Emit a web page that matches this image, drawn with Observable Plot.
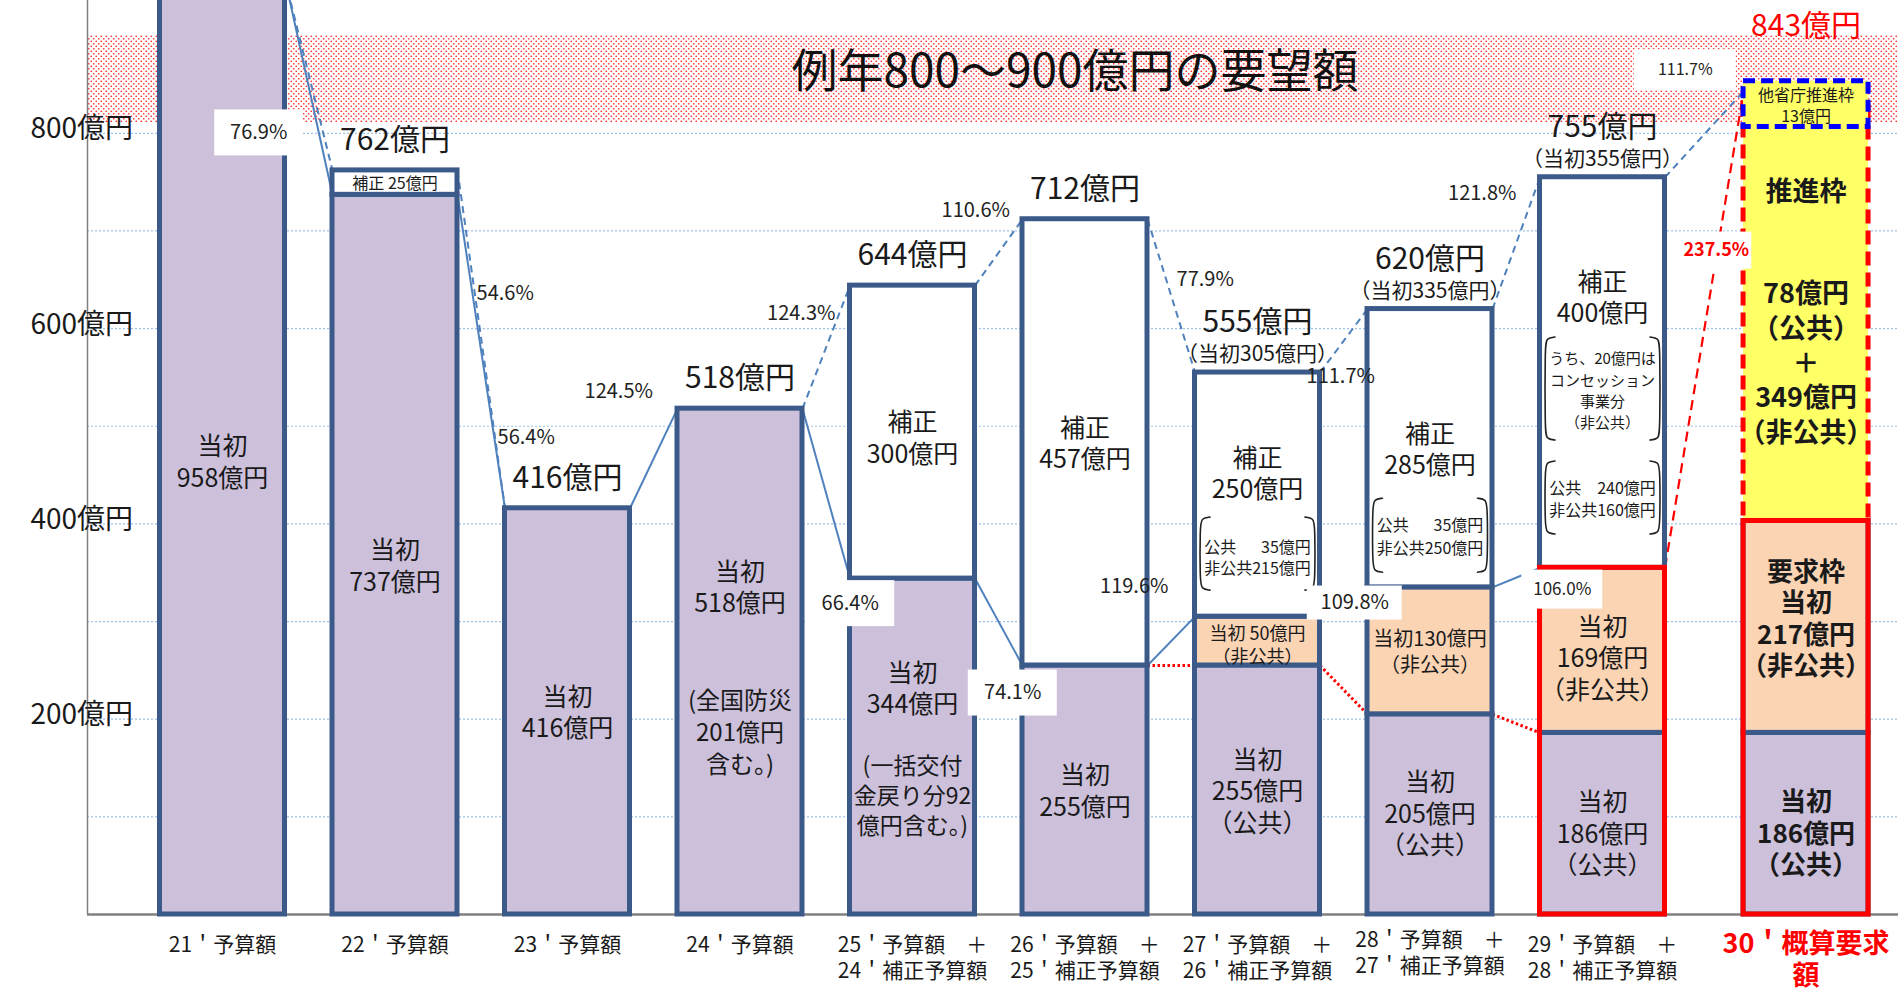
<!DOCTYPE html>
<html lang="ja">
<head>
<meta charset="utf-8">
<title>chart</title>
<script src="https://cdn.jsdelivr.net/npm/d3@7"></script>
<script src="https://cdn.jsdelivr.net/npm/@observablehq/plot@0.6"></script>
<style>
  html, body { margin: 0; padding: 0; background: #fff; }
  #chart svg { display: block; }
</style>
</head>
<body>
<div id="chart"></div>
<script>
// ---------------- data ----------------
const categories = ["21", "22", "23", "24", "25", "26", "27", "28", "29", "30"];
const tickLabels = [
  "21＇予算額", "22＇予算額", "23＇予算額", "24＇予算額",
  "25＇予算額　＋\n24＇補正予算額", "26＇予算額　＋\n25＇補正予算額",
  "27＇予算額　＋\n26＇補正予算額", "28＇予算額　＋\n27＇補正予算額",
  "29＇予算額　＋\n28＇補正予算額", "30＇概算要求\n額"
];
const initialPublic    = [958, 737, 416, 518, 344, 255, 255, 205, 186, 186]; // 当初（公共）
const initialNonPublic = [0, 0, 0, 0, 0, 0, 50, 130, 169, 217];             // 当初（非公共）
const supplementary    = [0, 25, 0, 0, 300, 457, 250, 285, 400, 0];         // 補正
const promotion        = [0, 0, 0, 0, 0, 0, 0, 0, 0, 427];                  // 推進枠 (78 + 349)
const otherMinistry    = [0, 0, 0, 0, 0, 0, 0, 0, 0, 13];                   // 他省庁推進枠
const yTicks = [200, 400, 600, 800];
const gridValues = [100, 200, 300, 400, 500, 600, 700, 800, 900];
const bandRange = [810, 900];
const bandText = "例年800～900億円の要望額";

// connectors between consecutive bars: which level they join
const connectors = [
  {gap: 0, from: "total", to: "total", kind: "dash"},
  {gap: 0, from: "initial", to: "initial", kind: "solid", label: 0},
  {gap: 1, from: "total", to: "total", kind: "dash", label: 1},
  {gap: 1, from: "initial", to: "initial", kind: "solid", label: 2},
  {gap: 2, from: "initial", to: "initial", kind: "solid", label: 3},
  {gap: 3, from: "total", to: "total", kind: "dash", label: 4},
  {gap: 3, from: "initial", to: "initial", kind: "solid", label: 5},
  {gap: 4, from: "total", to: "total", kind: "dash", label: 6},
  {gap: 4, from: "initial", to: "initial", kind: "solid", label: 7},
  {gap: 5, from: "total", to: "total", kind: "dash", label: 8},
  {gap: 5, from: "initial", to: "initial", kind: "solid", label: 9},
  {gap: 5, from: "pub", to: "pub", kind: "dot"},
  {gap: 6, from: "total", to: "total", kind: "dash", label: 10},
  {gap: 6, from: "initial", to: "initial", kind: "solid", label: 11},
  {gap: 6, from: "pub", to: "pub", kind: "dot"},
  {gap: 7, from: "total", to: "total", kind: "dash", label: 12},
  {gap: 7, from: "initial", to: "initial", kind: "solid", label: 13},
  {gap: 7, from: "pub", to: "pub", kind: "dot"},
  {gap: 8, from: "total", to: "total", kind: "dash", label: 14},
  {gap: 8, from: "initial", to: "total", kind: "red", label: 15}
];

// ---------------- layout ----------------
const W = 1898, H = 993, mL = 87, mB = 79;
const xMin = -0.7826, xMax = 9.7159, yMax = 936;
const kx = (W - mL) / (xMax - xMin);   // px per x unit
const ky = (H - mB) / yMax;            // px per 億円
const half = 62.5 / kx;
const xPos = i => i + (i === categories.length - 1 ? 0.18 : 0);
const upPx = px => px / ky;            // pixel offset (upwards) -> data units
const rightPx = px => px / kx;

const BLUE = "#3b5a89", LINE = "#4f81bd", PURPLE = "#ccc0da", PEACH = "#fbd4b4",
      YELLOW = "#ffff66", RED = "#ff0000", INK = "#1a1a1a";
const FONT = "'Noto Sans CJK JP', 'Noto Sans', sans-serif";

const bars = categories.map((c, i) => {
  const pub = initialPublic[i];
  const initial = pub + initialNonPublic[i];
  const sup = initial + supplementary[i];
  const pro = sup + promotion[i];
  const total = pro + otherMinistry[i];
  return {i, x: xPos(i), pub, initial, sup, pro, total};
});

const segs = [];
bars.forEach(b => {
  segs.push({i: b.i, x: b.x, key: "public", y1: 0, y2: b.pub});
  if (b.initial > b.pub) segs.push({i: b.i, x: b.x, key: "nonpub", y1: b.pub, y2: b.initial});
  if (b.sup > b.initial) segs.push({i: b.i, x: b.x, key: "supp", y1: b.initial, y2: b.sup});
  if (b.pro > b.sup) segs.push({i: b.i, x: b.x, key: "promo", y1: b.sup, y2: b.pro});
  if (b.total > b.pro) segs.push({i: b.i, x: b.x, key: "other", y1: b.pro, y2: b.total});
});
const segMid = (i, key) => { const s = segs.find(s => s.i === i && s.key === key); return (s.y1 + s.y2) / 2; };

// connector geometry
const links = connectors.map(c => {
  const a = bars[c.gap], b = bars[c.gap + 1];
  return {...c, x1: a.x + half, y1: a[c.from], x2: b.x - half, y2: b[c.to]};
});

// percent label placement: pixel nudge from the connector midpoint, optional white box
const pctLayout = [
  {dx: -50, dy: 46, bw: 88, bh: 46},
  {dx: 24, dy: -46},
  {dx: 45, dy: 86},
  {dx: -35, dy: -67},
  {dx: -25, dy: -34},
  {dx: 24, dy: 110, bw: 89, bh: 46},
  {dx: -23, dy: -42},
  {dx: 14, dy: 71, bw: 89, bh: 46},
  {dx: 34, dy: -16},
  {dx: -37, dy: -54},
  {dx: -3, dy: 36},
  {dx: 11, dy: 1, bw: 95, bh: 34},
  {dx: -34, dy: -50},
  {dx: 46, dy: 12, bw: 81, bh: 39, size: 17},
  {dx: -19, dy: -64, bw: 102, bh: 41, size: 16},
  {dx: 12, dy: -79, bw: 71, bh: 37, size: 18, color: RED, bold: true}
];
const pctLabels = links.filter(l => l.label !== undefined).map(l => {
  const L = pctLayout[l.label];
  return {
    text: (l.y2 / l.y1 * 100).toFixed(1) + "%",
    x: (l.x1 + l.x2) / 2 + rightPx(L.dx),
    y: (l.y1 + l.y2) / 2 - upPx(L.dy),
    ...L
  };
});

// labels inside the bar segments (dy = pixels below segment centre)
const inside = [
  {bar: 0, key: "public", text: "当初\n958億円", dy: 14},
  {bar: 1, key: "supp", text: "補正 25億円", dy: 0, size: 16},
  {bar: 1, key: "public", text: "当初\n737億円", dy: 10},
  {bar: 2, key: "public", text: "当初\n416億円", dy: 0},
  {bar: 3, key: "public", text: "当初\n518億円", dy: -75},
  {bar: 3, key: "public", text: "(全国防災\n201億円\n含む。)", dy: 69, size: 24, lh: 1.33},
  {bar: 4, key: "supp", text: "補正\n300億円", dy: 5},
  {bar: 4, key: "public", text: "当初\n344億円", dy: -59},
  {bar: 4, key: "public", text: "(一括交付\n金戻り分92\n億円含む。)", dy: 48, size: 23, lh: 1.3},
  {bar: 5, key: "supp", text: "補正\n457億円", dy: 0},
  {bar: 5, key: "public", text: "当初\n255億円", dy: 0},
  {bar: 6, key: "supp", text: "補正\n250億円", dy: -22},
  {bar: 6, key: "supp", text: "公共　\u200735億円\n非公共215億円", dy: 62, size: 16, lh: 1.35},
  {bar: 6, key: "nonpub", text: "当初 50億円\n（非公共）", dy: 3, size: 18, lh: 1.28},
  {bar: 6, key: "public", text: "当初\n255億円\n（公共）", dy: 0},
  {bar: 7, key: "supp", text: "補正\n285億円", dy: 0},
  {bar: 7, key: "supp", text: "公共　\u200735億円\n非公共250億円", dy: 87, size: 16, lh: 1.4},
  {bar: 7, key: "nonpub", text: "当初130億円\n（非公共）", dy: 0, size: 20, lh: 1.3},
  {bar: 7, key: "public", text: "当初\n205億円\n（公共）", dy: -2},
  {bar: 8, key: "supp", text: "補正\n400億円", dy: -76},
  {bar: 8, key: "supp", text: "うち、20億円は\nコンセッション\n事業分\n（非公共）", dy: 17, size: 15, lh: 1.42},
  {bar: 8, key: "supp", text: "公共　240億円\n非公共160億円", dy: 125, size: 16, lh: 1.4},
  {bar: 8, key: "nonpub", text: "当初\n169億円\n（非公共）", dy: 7},
  {bar: 8, key: "public", text: "当初\n186億円\n（公共）", dy: 9},
  {bar: 9, key: "other", text: "他省庁推進枠\n13億円", dy: 7, size: 16, lh: 1.3},
  {bar: 9, key: "promo", text: "推進枠", dy: -122, size: 27, bold: true},
  {bar: 9, key: "promo", text: "78億円\n（公共）\n＋\n349億円\n（非公共）", dy: 49, size: 27, bold: true, lh: 1.28},
  {bar: 9, key: "nonpub", text: "要求枠\n当初\n217億円\n（非公共）", dy: -9, size: 26, bold: true, lh: 1.2},
  {bar: 9, key: "public", text: "当初\n186億円\n（公共）", dy: 9, size: 26, bold: true, lh: 1.2}
];

// bracket groups (dy = pixels below segment centre, h = pixel height)
const brackets = [
  {bar: 6, key: "supp", dy: 59, h: 73},
  {bar: 7, key: "supp", dy: 87, h: 74},
  {bar: 8, key: "supp", dy: 16, h: 103},
  {bar: 8, key: "supp", dy: 125, h: 73}
];
const bracketPts = [];
brackets.forEach((br, k) => {
  const cx = xPos(br.bar);
  const cy = segMid(br.bar, br.key) - upPx(br.dy);
  const top = cy + upPx(br.h / 2);
  const shape = [[10, 0], [1.5, 1], [0, 9], [0, br.h - 9], [1.5, br.h - 1], [10, br.h]];
  [-1, 1].forEach(s => {
    const edge = cx + s * (half - rightPx(5));
    shape.forEach(([inward, down]) => {
      bracketPts.push({id: k + "_" + s, x: edge - s * rightPx(inward), y: top - upPx(down)});
    });
  });
});

const hasSub = b => initialNonPublic[b.i] > 0 && supplementary[b.i] > 0;
const topBars = bars.filter(b => b.i > 0 && b.i < categories.length - 1);
const lastBar = bars[categories.length - 1];
const rectX = {x1: d => d.x - half, x2: d => d.x + half, y1: "y1", y2: "y2"};

// ---------------- marks ----------------
const textMarks = inside.map(d => Plot.text([d], {
  x: () => xPos(d.bar),
  y: () => segMid(d.bar, d.key) - upPx(d.dy),
  text: () => d.text,
  fontSize: d.size || 25,
  lineHeight: d.lh || 1.26,
  fontWeight: d.bold ? "bold" : "normal",
  fill: INK
}));

const pctMarks = [];
pctLabels.forEach(p => {
  if (p.bw) pctMarks.push(Plot.rect([p], {
    x1: "x", x2: "x", y1: "y", y2: "y",
    insetLeft: -p.bw / 2, insetRight: -p.bw / 2, insetTop: -p.bh / 2, insetBottom: -p.bh / 2,
    fill: "white"
  }));
  pctMarks.push(Plot.text([p], {
    x: "x", y: "y", text: "text",
    fontSize: p.size || 20,
    fontWeight: p.bold ? "bold" : "normal",
    fill: p.color || "#222"
  }));
});

const svg = Plot.plot({
  width: W, height: H,
  marginLeft: mL, marginRight: 0, marginTop: 0, marginBottom: mB,
  x: {domain: [xMin, xMax], axis: null},
  y: {domain: [0, yMax], axis: null},
  style: {fontFamily: FONT, background: "white", color: INK},
  marks: [
    // grid + band
    Plot.ruleY(gridValues, {stroke: "#9dc3e6", strokeWidth: 1.2, strokeDasharray: "2,2"}),
    Plot.rect([bandRange], {x1: () => xMin, x2: () => xMax, y1: d => d[0], y2: d => d[1], fill: "#fe0001"}),
    Plot.text([bandText], {
      x: () => (xMin + xMax) / 2 + rightPx(82),
      y: () => (bandRange[0] + bandRange[1]) / 2 + upPx(7),
      text: d => d, fontSize: 46, fill: "#111"
    }),
    // axes lines
    Plot.ruleX([xMin], {stroke: "#808080", strokeWidth: 1.5}),
    Plot.ruleY([0], {stroke: "#808080", strokeWidth: 2.5}),
    // connectors
    Plot.link(links.filter(l => l.kind === "solid"), {x1: "x1", y1: "y1", x2: "x2", y2: "y2", stroke: LINE, strokeWidth: 2}),
    Plot.link(links.filter(l => l.kind === "dash"), {x1: "x1", y1: "y1", x2: "x2", y2: "y2", stroke: LINE, strokeWidth: 2, strokeDasharray: "7,5"}),
    Plot.link(links.filter(l => l.kind === "dot"), {x1: "x1", y1: "y1", x2: "x2", y2: "y2", stroke: RED, strokeWidth: 3, strokeDasharray: "2.5,2.5"}),
    Plot.link(links.filter(l => l.kind === "red"), {x1: "x1", y1: "y1", x2: "x2", y2: "y2", stroke: RED, strokeWidth: 2.2, strokeDasharray: "10,6"}),
    // bars
    Plot.rect(segs.filter(s => s.key === "public"), {...rectX, fill: PURPLE, stroke: BLUE, strokeWidth: 5}),
    Plot.rect(segs.filter(s => s.key === "nonpub"), {...rectX, fill: PEACH, stroke: BLUE, strokeWidth: 5}),
    Plot.rect(segs.filter(s => s.key === "supp"), {...rectX, fill: "white", stroke: BLUE, strokeWidth: 5}),
    Plot.rect(segs.filter(s => s.key === "promo"), {...rectX, fill: YELLOW, stroke: RED, strokeWidth: 5, strokeDasharray: "14,7"}),
    // the small 13億円 frame is drawn enlarged (as in the original) so its label fits
    Plot.rect(segs.filter(s => s.key === "other"), {...rectX, insetTop: -10, insetBottom: -23, fill: YELLOW, stroke: "#0000ff", strokeWidth: 5, strokeDasharray: "12,6"}),
    // red outline on the request bars (当初 part)
    Plot.rect(bars.filter(b => initialNonPublic[b.i] >= 150), {x1: d => d.x - half, x2: d => d.x + half, y1: () => 0, y2: "initial", fill: "none", stroke: RED, strokeWidth: 5}),
    // inside texts + brackets
    ...textMarks,
    Plot.line(bracketPts, {x: "x", y: "y", z: "id", curve: "basis", stroke: "#222", strokeWidth: 1.6}),
    // totals above bars
    Plot.text(topBars, {x: "x", y: d => d.total + upPx(hasSub(d) ? 50 : 30), text: d => d.total + "億円", fontSize: 30, fill: INK}),
    Plot.text(topBars.filter(hasSub), {x: "x", y: d => d.total + upPx(18), text: d => "（当初" + d.initial + "億円）", fontSize: 21, fill: INK}),
    Plot.text([lastBar], {x: "x", y: d => d.total + upPx(65), text: d => d.total + "億円", fontSize: 30, fill: RED}),
    // percent labels
    ...pctMarks,
    // y tick labels
    Plot.text(yTicks, {x: () => xMin, y: d => d, text: d => d + "億円", textAnchor: "start", dx: -57, dy: -4, fontSize: 28, fill: INK}),
    // x tick labels
    Plot.text(bars.filter(b => b.i < 9 && b.i !== 7), {x: "x", y: () => 0, text: d => tickLabels[d.i], lineAnchor: "top", dy: 19, fontSize: 21, lineHeight: 1.25, fill: INK}),
    Plot.text(bars.filter(b => b.i === 7), {x: "x", y: () => 0, text: d => tickLabels[d.i], lineAnchor: "top", dy: 14, fontSize: 21, lineHeight: 1.25, fill: INK}),
    Plot.text([lastBar], {x: "x", y: () => 0, text: d => tickLabels[d.i], lineAnchor: "top", dy: 15, fontSize: 27, lineHeight: 1.2, fontWeight: "bold", fill: RED})
  ]
});

// dotted red pattern for the "usual request" band
const ns = "http://www.w3.org/2000/svg";
const defs = document.createElementNS(ns, "defs");
defs.innerHTML = '<pattern id="dots" width="5" height="5" patternUnits="userSpaceOnUse">' +
  '<rect width="5" height="5" fill="white"/>' +
  '<circle cx="1.25" cy="1.25" r="0.85" fill="#ff2a2a"/>' +
  '<circle cx="3.75" cy="3.75" r="0.85" fill="#ff2a2a"/></pattern>';
svg.insertBefore(defs, svg.firstChild);
svg.querySelectorAll('[fill="#fe0001"]').forEach(el => el.setAttribute("fill", "url(#dots)"));

document.getElementById("chart").appendChild(svg);
</script>
</body>
</html>
